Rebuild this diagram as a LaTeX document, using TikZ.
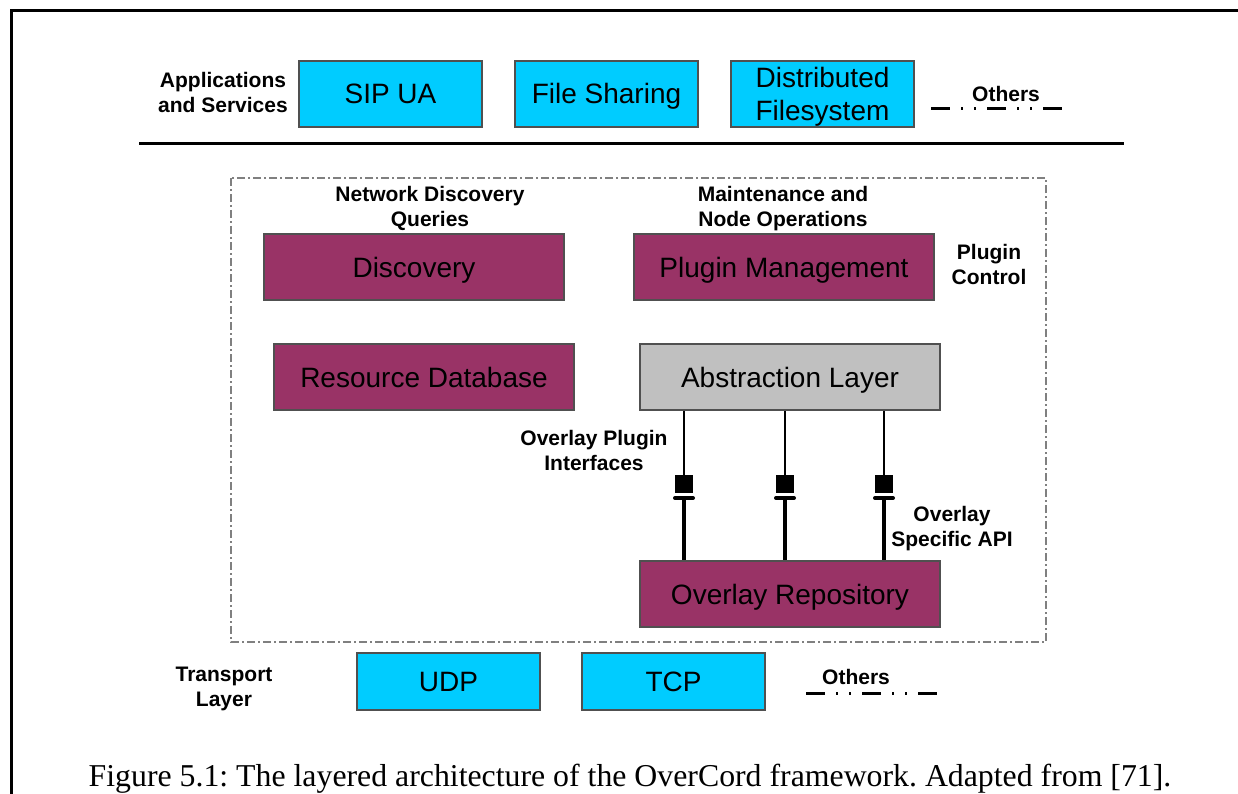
\documentclass[tikz,border=0pt]{standalone}
\usepackage{fontspec}
\setmainfont{Liberation Sans}
\newfontfamily\capfont{Liberation Serif}
\usetikzlibrary{calc}
\definecolor{cyanbox}{HTML}{00CCFF}
\definecolor{plum}{HTML}{993366}
\definecolor{absgray}{HTML}{C0C0C0}
\definecolor{edgegray}{HTML}{505050}
\tikzset{
  box/.style={draw=edgegray, line width=1.5pt, inner sep=0pt, align=center,
    font=\fontsize{28}{33}\selectfont, text height=20pt, text depth=0pt},
  twoline/.style={text height=53pt, text depth=0pt},
  appbox/.style={box, fill=cyanbox, minimum width=183pt, minimum height=66pt},
  tbox/.style={box, fill=cyanbox, minimum width=183pt, minimum height=57pt},
  pbox/.style={box, fill=plum, minimum width=300pt, minimum height=66pt},
  gbox/.style={box, fill=absgray, minimum width=300pt, minimum height=66pt},
  lbl/.style={align=center, inner sep=0pt, font=\fontsize{21}{25}\selectfont\bfseries,
    text height=15pt, text depth=0pt},
  lbltwo/.style={lbl, text height=40pt, text depth=0pt},
  others/.style={line width=3pt, dash pattern=on 19pt off 11pt on 2pt off 11pt on 2pt off 11pt},
  sq/.style={fill=black, draw=none, minimum size=18pt, inner sep=0pt},
  upline/.style={line width=2.5pt},
  lowline/.style={line width=4pt},
  bar/.style={line width=4pt, line cap=round},
}
\begin{document}
\begin{tikzpicture}[x=1pt,y=-1pt]
\useasboundingbox (0,0) rectangle (1238,794);
% page frame
\draw[line width=3pt] (11,800) -- (11,11) -- (1245,11);
% applications layer
\node[lbltwo] (apps) at (223,93) {Applications\\and Services};
\node[appbox] (sip) at (390.5,94) {SIP UA};
\node[appbox] (fs) at (606.5,94) {File Sharing};
\node[appbox, twoline] (dfs) at (822.5,94) {Distributed\\Filesystem};
\node[lbl] (oth1) at (1006,94) {Others};
\coordinate (o1a) at (931,109);
\coordinate (o1b) at (1062,109);
\draw[others] (o1a) -- (o1b);
\coordinate (sepA) at (139,144);
\coordinate (sepB) at (1124,144);
\draw[line width=3pt] (sepA) -- (sepB);
% framework boundary
\draw[gray, line width=1.3pt, dash pattern=on 8pt off 3pt on 2pt off 3pt] (231,178) rectangle (1046,642);
\node[lbltwo] (ndq) at (430,206.5) {Network Discovery\\Queries};
\node[lbltwo] (mno) at (783,206.5) {Maintenance and\\Node Operations};
\node[pbox] (disc) at (414,267) {Discovery};
\node[pbox] (pm) at (784,267) {Plugin Management};
\node[lbltwo] (pc) at (989,264.5) {Plugin\\Control};
\node[pbox] (rdb) at (424,377) {Resource Database};
\node[gbox] (abs) at (790,377) {Abstraction Layer};
\node[lbltwo] (opi) at (594,450.5) {Overlay Plugin\\Interfaces};
\node[lbltwo] (osa) at (952,526.5) {Overlay\\Specific API};
\node[pbox] (rep) at (790,594) {Overlay Repository};
% plugin interfaces
\foreach \i/\x in {1/684,2/785,3/884}{
  \node[sq] (s\i) at (\x,484) {};
  \coordinate (b\i) at (\x,498);
  \draw[upline] (s\i.north |- abs.south) -- (s\i.north);
  \draw[bar] ($(b\i)+(-9,0)$) -- ($(b\i)+(9,0)$);
  \draw[lowline] (b\i) -- (b\i |- rep.north);
}
% transport layer
\node[lbltwo] (tl) at (224,686) {Transport\\Layer};
\node[tbox] (udp) at (448.5,681.5) {UDP};
\node[tbox] (tcp) at (673.5,681.5) {TCP};
\node[lbl] (oth2) at (856,677) {Others};
\coordinate (o2a) at (806,693);
\coordinate (o2b) at (937,693);
\draw[others] (o2a) -- (o2b);
% caption
\node[inner sep=0pt, anchor=base, font=\capfont\fontsize{31.8}{33}\selectfont] (cap) at (630,786)
  {\frenchspacing Figure 5.1: The layered architecture of the OverCord framework. Adapted from [71].};
\end{tikzpicture}
\end{document}
